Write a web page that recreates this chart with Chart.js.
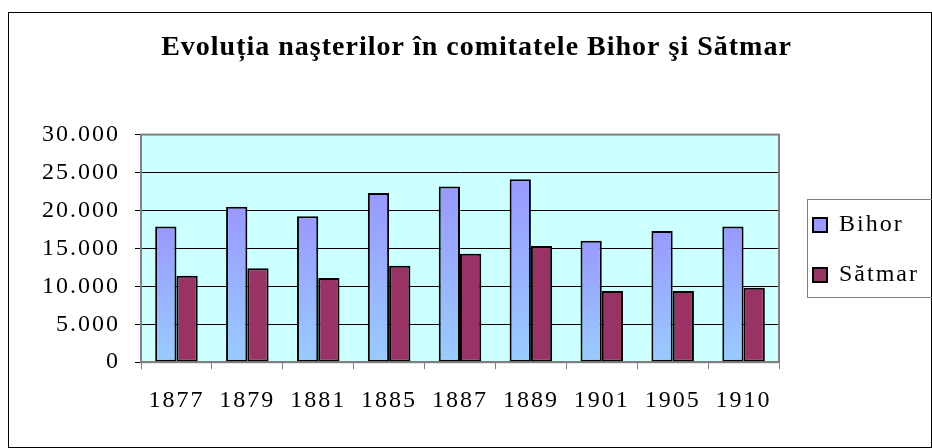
<!DOCTYPE html>
<html>
<head>
<meta charset="utf-8">
<script src="https://cdn.jsdelivr.net/npm/chart.js@4.4.1/dist/chart.umd.min.js"></script>
<style>
  html, body { margin: 0; padding: 0; background: #ffffff; }
  #wrap { width: 932px; height: 448px; }
</style>
</head>
<body>
<div id="wrap"><canvas id="births-chart" width="932" height="448"></canvas></div>
<script>
// Data
const years = ['1877', '1879', '1881', '1885', '1887', '1889', '1901', '1905', '1910'];
const bihorValues = [17900, 20500, 19250, 22300, 23150, 24100, 16000, 17300, 17900];
const satmarValues = [11400, 12400, 11100, 12700, 14300, 15300, 9400, 9400, 9800];
const yTicks = [0, 5000, 10000, 15000, 20000, 25000, 30000];

const serif = "'Liberation Serif', 'Times New Roman', serif";
const TEXT_SPACING = '2px';

// Bihor bars fade from lavender at the top to light blue at the bottom
function bihorFill(context) {
    const chart = context.chart;
    if (!chart.chartArea || context.type !== 'data') return '#9fb0ff';
    const y = chart.scales.y;
    const top = y.getPixelForValue(context.parsed.y);
    const bottom = y.getPixelForValue(0);
    const g = chart.ctx.createLinearGradient(0, top, 0, bottom);
    g.addColorStop(0, '#9999ff');
    g.addColorStop(1, '#99ccff');
    return g;
}

// Excel-like letter spacing, plot background, frames, legend placement
const excelLook = {
    id: 'excelLook',
    beforeLayout(chart) {
        chart.ctx.letterSpacing = TEXT_SPACING;
    },
    afterLayout(chart) {
        const lg = chart.legend;
        if (lg && lg.columnSizes && lg.columnSizes.length) {
            const pad = lg.options.labels.padding;
            const w = lg.width;
            // first legend box at x ~813, first item top at y ~213
            lg.left = 813 - pad;
            lg.right = lg.left + w;
            const colH = lg.columnSizes[0].height;
            const cur = (lg.top + pad + lg.bottom - colH) / 2;
            const dy = 213 - cur;
            lg.top += dy;
            lg.bottom += dy;
        }
        const t = chart.titleBlock;
        if (t) {
            t.left += 16;
            t.right += 16;
            if (!t._spaced) {
                const draw = t.draw.bind(t);
                t.draw = () => {
                    chart.ctx.letterSpacing = '1px';
                    draw();
                    chart.ctx.letterSpacing = TEXT_SPACING;
                };
                t._spaced = true;
            }
        }
    },
    beforeDraw(chart) {
        const { ctx, chartArea: a } = chart;
        ctx.letterSpacing = TEXT_SPACING;
        ctx.save();
        ctx.fillStyle = '#ffffff';
        ctx.fillRect(0, 0, chart.width, chart.height);
        ctx.fillStyle = '#ccffff';
        ctx.fillRect(a.left, a.top, a.right - a.left, a.bottom - a.top);
        ctx.restore();
    },
    afterDraw(chart) {
        const { ctx, chartArea: a } = chart;
        ctx.save();
        // plot area frame
        ctx.strokeStyle = '#808080';
        ctx.lineWidth = 2;
        ctx.strokeRect(a.left, a.top, a.right - a.left, a.bottom - a.top);
        // outer chart frame
        ctx.strokeStyle = '#000000';
        ctx.lineWidth = 1;
        ctx.strokeRect(8.5, 12.5, 923, 435);
        // legend frame
        ctx.strokeStyle = '#808080';
        ctx.strokeRect(807.5, 199.5, 130, 98);
        ctx.restore();
    }
};

const ctx = document.getElementById('births-chart').getContext('2d');
new Chart(ctx, {
    type: 'bar',
    data: {
        labels: years,
        datasets: [
            {
                label: 'Bihor',
                data: bihorValues,
                backgroundColor: bihorFill,
                borderColor: '#000000',
                borderWidth: 2,
                borderSkipped: false,
            },
            {
                label: 'Sătmar',
                data: satmarValues,
                backgroundColor: '#993366',
                borderColor: '#000000',
                borderWidth: 2,
                borderSkipped: false,
            },
        ],
    },
    options: {
        responsive: false,
        animation: false,
        layout: {
            padding: { left: 0, top: 0, right: 11, bottom: 16 },
        },
        datasets: {
            bar: { categoryPercentage: 0.6, barPercentage: 1.0 },
        },
        plugins: {
            tooltip: { enabled: false },
            title: {
                display: true,
                text: 'Evoluția naşterilor în comitatele Bihor şi Sătmar',
                color: '#000000',
                font: { family: serif, size: 28, weight: 'bold' },
                padding: { top: 31, bottom: 70 },
            },
            legend: {
                position: 'right',
                labels: {
                    color: '#000000',
                    font: { family: serif, size: 24 },
                    boxWidth: 14,
                    boxHeight: 14,
                    padding: 26,
                },
            },
        },
        scales: {
            x: {
                offset: true,
                grid: {
                    offset: true,
                    drawOnChartArea: false,
                    drawTicks: true,
                    tickLength: 7,
                    color: '#808080',
                },
                border: { color: '#808080', width: 2 },
                ticks: {
                    color: '#000000',
                    padding: 17,
                    maxRotation: 0,
                    font: { family: serif, size: 24 },
                },
            },
            y: {
                min: 0,
                max: 30000,
                afterFit: (scale) => { scale.width = 141; },
                afterBuildTicks: (scale) => { scale.ticks = yTicks.map(v => ({ value: v })); },
                grid: {
                    color: '#000000',
                    lineWidth: 1,
                    drawTicks: true,
                    tickLength: 6,
                },
                border: { color: '#808080', width: 2 },
                ticks: {
                    color: '#000000',
                    padding: 15,
                    font: { family: serif, size: 24 },
                    callback: (v) => v.toLocaleString('de-DE'),
                },
            },
        },
    },
    plugins: [excelLook],
});
</script>
</body>
</html>
